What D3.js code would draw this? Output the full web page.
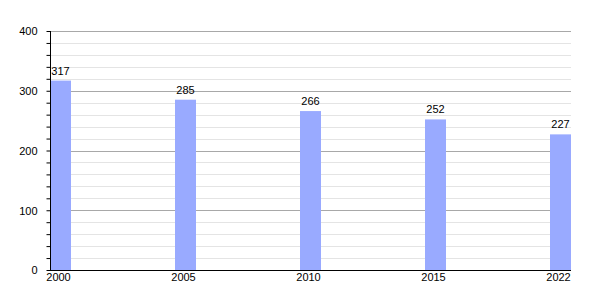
<!DOCTYPE html>
<html>
<head>
<meta charset="utf-8">
<script src="https://cdn.jsdelivr.net/npm/d3@7"></script>
<style>
  body { margin: 0; background: #fff; }
  text { font-family: "Liberation Sans", Arial, sans-serif; font-size: 11px; fill: #000; }
</style>
</head>
<body>
<svg id="chart" width="600" height="300"></svg>
<script>
const years = ['2000', '2005', '2010', '2015', '2022'];
const values = [317, 285, 266, 252, 227];
const yTicks = [0, 100, 200, 300, 400];

const svg = d3.select('#chart');
const plotLeft = 50, plotRight = 571, plotTop = 31, plotBottom = 270;
const barW = 21;

const x = d3.scalePoint().domain(years).range([plotLeft, plotRight - barW]);
const y = d3.scaleLinear().domain([0, 400]).range([plotBottom, plotTop]);

// minor grid
svg.append('g').selectAll('line')
  .data(d3.range(20, 400, 20).filter(v => v % 100 !== 0))
  .join('line')
  .attr('x1', plotLeft).attr('x2', plotRight)
  .attr('y1', d => Math.round(y(d)) + 0.5).attr('y2', d => Math.round(y(d)) + 0.5)
  .attr('stroke', '#e4e4e4');

// major grid
svg.append('g').selectAll('line')
  .data(yTicks.slice(1))
  .join('line')
  .attr('x1', plotLeft).attr('x2', plotRight)
  .attr('y1', d => Math.round(y(d)) + 0.5).attr('y2', d => Math.round(y(d)) + 0.5)
  .attr('stroke', '#a8a8a8');

// bars
svg.append('g').selectAll('rect')
  .data(values)
  .join('rect')
  .attr('x', (d, i) => x(years[i]))
  .attr('y', d => y(d))
  .attr('width', barW)
  .attr('height', d => plotBottom - y(d))
  .attr('fill', '#99aaff');

// value labels
svg.append('g').selectAll('text')
  .data(values)
  .join('text')
  .attr('x', (d, i) => x(years[i]) + barW / 2)
  .attr('y', d => y(d) - 6)
  .attr('text-anchor', 'middle')
  .text(d => d);

// y axis
const yAxis = svg.append('g')
  .attr('transform', `translate(${plotLeft + 0.5},0)`)
  .call(d3.axisLeft(y).tickValues(d3.range(0, 401, 20)).tickSize(4).tickFormat(d => d % 100 === 0 ? d : ''));
yAxis.select('.domain').attr('stroke', '#000').attr('d', `M0,${plotTop}V${plotBottom}`);
yAxis.selectAll('.tick line').attr('stroke', '#000');
yAxis.selectAll('.tick text').attr('x', -13).attr('dy', '0.35em')
  .style('font-family', '"Liberation Sans", Arial, sans-serif').style('font-size', '11px');

// x axis
const xAxis = svg.append('g')
  .attr('transform', `translate(0,${plotBottom + 0.5})`)
  .call(d3.axisBottom(x).tickSize(0).tickPadding(3));
xAxis.select('.domain').attr('stroke', '#000').attr('d', `M${plotLeft},0H${plotRight}`);
xAxis.selectAll('.tick').attr('transform', d => `translate(${x(d) + barW / 2 - 2},0)`);
xAxis.selectAll('.tick text')
  .style('font-family', '"Liberation Sans", Arial, sans-serif').style('font-size', '11px');
</script>
</body>
</html>
